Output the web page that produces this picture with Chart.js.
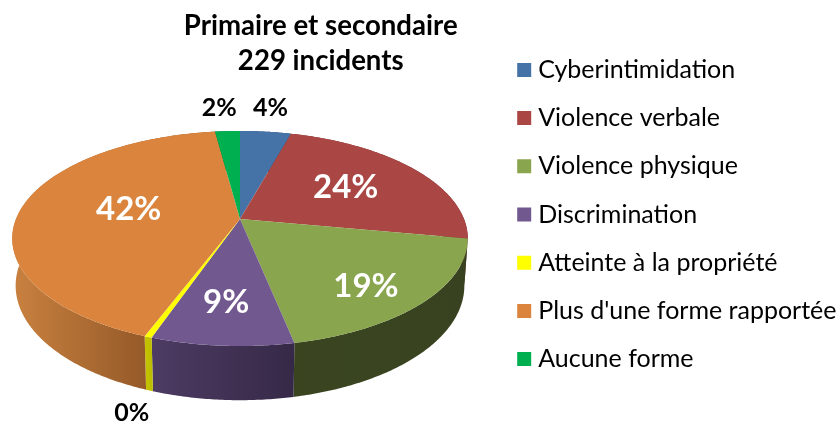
<!DOCTYPE html>
<html><head><meta charset="utf-8">
<style>html,body{margin:0;padding:0;background:#fff}canvas{display:block}</style>
<script src="https://cdn.jsdelivr.net/npm/chart.js@4/dist/chart.umd.min.js"></script>
</head><body><canvas id="c" width="839" height="423"></canvas>
<script>
const titleLines = ["Primaire et secondaire", "229 incidents"];
const categories = ["Cyberintimidation","Violence verbale","Violence physique","Discrimination","Atteinte à la propriété","Plus d'une forme rapportée","Aucune forme"];
const shares = [4.3, 23.6, 18.9, 8.5, 0.45, 42.15, 2.1];
const faceColors = ["#4572A7","#AA4643","#89A54E","#71588F","#FFFF00","#DB843D","#00B050"];
const sideLeft  = ["#2f4d72","#73302e","#3a4520","#4d3b63","#c4c400","#c9813f","#007a38"];
const sideRight = ["#2f4d72","#73302e","#384220","#362947","#bcbc00","#955a29","#007a38"];
const labelRadius = [1.33, 0.6, 0.78, 0.7, 1.1, 0.51, 1.33];
const labelNudgeX = [-2, -2, -12.5, -2, -5, 1, -5];
const labelNudgeY = [0, 0, 4, 0, 62, -4, 0];
const labelColors = ["#000","#fff","#fff","#fff","#000","#fff","#000"];
const labelSizes  = [25, 33, 33, 33, 25, 33, 25];

const FONT = "Lato";
const geom = {cx:240, cy:219, rx:224, ry:104, k:0.1813, bottomScale:0.985, depth:45.9};
function top3d(a, r){ const c=Math.cos(a)*r, s=Math.sin(a)*r, d=1-geom.k*s;
  return {x:geom.cx+geom.rx*c/d, y:geom.cy+geom.ry*s/d}; }
function bottom3d(a){ const c=Math.cos(a), s=Math.sin(a), d=1-geom.k*s, f=geom.bottomScale;
  return {x:geom.cx+f*geom.rx*c/d, y:geom.cy+f*geom.ry*s/d+geom.depth/d}; }

const pie3d = {
  id:"pie3d",
  beforeDatasetsDraw(chart){
    const ctx=chart.ctx, arcs=chart.getDatasetMeta(0).data;
    const steps=a=>{const n=Math.max(2,Math.ceil((a.endAngle-a.startAngle)/0.01));
      return Array.from({length:n+1},(_,i)=>a.startAngle+(a.endAngle-a.startAngle)*i/n);};
    arcs.forEach((a,i)=>{
      const pts=steps(a), T=pts.map(t=>top3d(t,1)), B=pts.map(bottom3d);
      const xs=T.concat(B).filter((p,j)=>Math.sin(pts[j%pts.length])>0).map(p=>p.x);
      const x0=xs.length?Math.min(...xs):0, x1=xs.length?Math.max(...xs):1;
      const g=ctx.createLinearGradient(x0,0,Math.max(x1,x0+1),0);
      g.addColorStop(0,sideLeft[i]); g.addColorStop(1,sideRight[i]);
      ctx.beginPath(); T.forEach((p,j)=>j?ctx.lineTo(p.x,p.y):ctx.moveTo(p.x,p.y));
      B.reverse().forEach(p=>ctx.lineTo(p.x,p.y)); ctx.closePath();
      ctx.fillStyle=g; ctx.fill();
    });
    arcs.forEach((a,i)=>{
      ctx.beginPath(); ctx.moveTo(geom.cx,geom.cy);
      steps(a).forEach(t=>{const p=top3d(t,1); ctx.lineTo(p.x,p.y);}); ctx.closePath();
      ctx.fillStyle=faceColors[i]; ctx.fill();
    });
    const total=shares.reduce((p,v)=>p+v,0);
    ctx.textAlign="center"; ctx.textBaseline="middle";
    arcs.forEach((a,i)=>{
      const p=top3d((a.startAngle+a.endAngle)/2,labelRadius[i]);
      ctx.font=`bold ${labelSizes[i]}px ${FONT}`; ctx.fillStyle=labelColors[i];
      ctx.fillText(Math.round(shares[i]/total*100)+"%",p.x+labelNudgeX[i],p.y+labelNudgeY[i]);
    });
    return false;
  }
};

new Chart(document.getElementById("c"),{
  type:"pie",
  data:{labels:categories,datasets:[{data:shares,backgroundColor:faceColors,borderColor:faceColors,borderWidth:11}]},
  plugins:[pie3d],
  options:{
    responsive:false,animation:false,
    layout:{padding:{left:142,right:-7.5,top:9,bottom:3}},
    plugins:{
      tooltip:{enabled:false},
      title:{display:true,text:titleLines,fullSize:false,color:"#000",font:{family:FONT,size:27.6,weight:"bold",lineHeight:1.25},padding:{top:0,bottom:0}},
      legend:{position:"right",labels:{boxWidth:3,boxHeight:3,padding:23.2,color:"#000",font:{family:FONT,size:25}}}
    }
  }
});
</script></body></html>
